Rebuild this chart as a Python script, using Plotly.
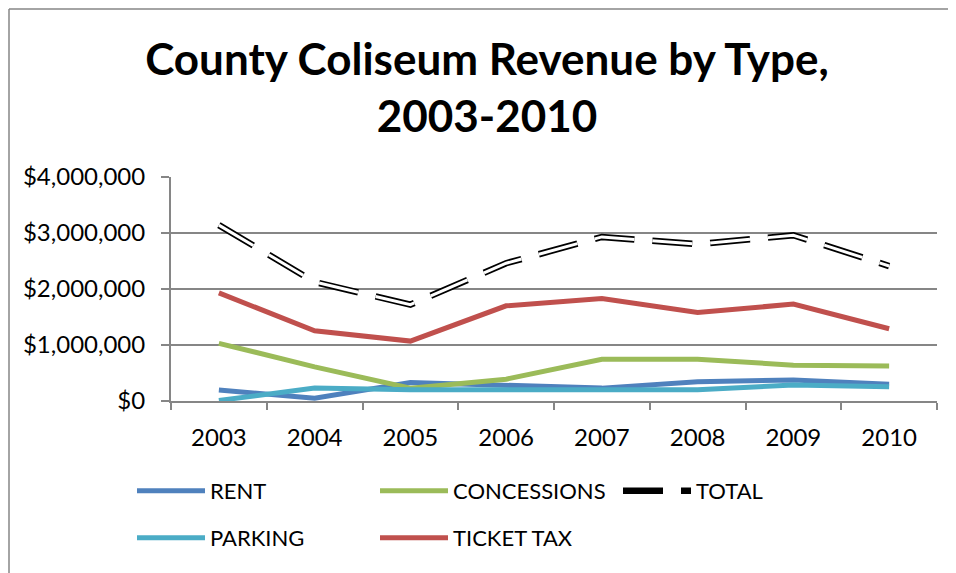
import plotly.graph_objects as go

years = ["2003", "2004", "2005", "2006", "2007", "2008", "2009", "2010"]
rent = [196000, 50000, 330000, 270000, 230000, 345000, 375000, 300000]
concessions = [1030000, 610000, 230000, 390000, 745000, 745000, 640000, 625000]
parking = [10000, 230000, 200000, 210000, 200000, 200000, 285000, 255000]
ticket_tax = [1930000, 1255000, 1070000, 1700000, 1830000, 1580000, 1730000, 1290000]
total = [3140000, 2125000, 1720000, 2460000, 2930000, 2800000, 2960000, 2410000]
y_ticks = [0, 1000000, 2000000, 3000000, 4000000]

FONT = "Lato"
fig = go.Figure()

def add_line(name, vals, color, legend):
    fig.add_trace(go.Scatter(x=years, y=vals, name=name, mode="lines", legend=legend,
                             line=dict(color=color, width=5)))

add_line("RENT", rent, "#4F81BD", "legend")
add_line("CONCESSIONS", concessions, "#9BBB59", "legend")
fig.add_trace(go.Scatter(x=years, y=total, name="TOTAL", mode="lines", legend="legend",
                         legendgroup="total",
                         line=dict(color="black", width=6.5, dash="40px,18px")))
add_line("PARKING", parking, "#4BACC6", "legend2")
add_line("TICKET TAX", ticket_tax, "#C0504D", "legend2")
fig.add_trace(go.Scatter(x=years, y=total, name="TOTAL", mode="lines",
                         legendgroup="total", showlegend=False, hoverinfo="skip",
                         line=dict(color="white", width=3, dash="40px,18px")))

# page body has an 8px margin, so figure coordinates = screen coordinates - 8
OFF = 8
W, H = 956 - OFF, 573 - OFF
L, T = 171 - OFF, 177 - OFF
pw, ph = 766, 224
R = W - L - pw
B = H - T - ph

leg_common = dict(orientation="h", xref="container", yref="container",
                  xanchor="left", yanchor="middle",
                  itemwidth=68, entrywidth=160, tracegroupgap=0,
                  font=dict(family=FONT, size=22, color="black"),
                  bgcolor="rgba(0,0,0,0)")

fig.update_layout(
    width=W, height=H,
    margin=dict(l=L, r=R, t=T, b=B, autoexpand=False),
    paper_bgcolor="white", plot_bgcolor="white",
    font=dict(family=FONT, color="black", size=23),
    title=dict(text="<b>County Coliseum Revenue by Type,<br>2003-2010</b>",
               x=(487 - OFF) / W, xanchor="center", xref="container", yref="container",
               y=1 - 67 / H, yanchor="top",
               font=dict(family=FONT, size=44, color="black")),
    showlegend=True,
    legend=dict(x=(132 - OFF) / W, y=1 - (491 - OFF) / H, **leg_common),
    legend2=dict(x=(132 - OFF) / W, y=1 - (538 - OFF) / H, **leg_common),
    xaxis=dict(type="category", range=[-0.5, 7.5], showgrid=False, showline=True,
               linecolor="#868686", linewidth=2, ticks="outside",
               tickson="boundaries", ticklen=7, tickcolor="#868686", tickwidth=2,
               tickfont=dict(family=FONT, size=24), ticklabelstandoff=14,
               fixedrange=True, automargin=False),
    yaxis=dict(range=[0, 4000000], tickvals=y_ticks, tickformat="$,.0f",
               showgrid=True, gridcolor="#868686", gridwidth=1.5,
               showline=True, linecolor="#868686", linewidth=2,
               ticks="outside", ticklen=8, tickcolor="#868686", tickwidth=2,
               zeroline=False, tickfont=dict(family=FONT, size=24),
               ticklabelstandoff=11, fixedrange=True, automargin=False),
)

# outer chart border (top and left edges visible), placed at the figure edge
def fx(px):
    return (px - L) / pw

def fy(py):
    return (T + ph - py) / ph

fig.add_shape(type="line", xref="paper", yref="paper",
              x0=fx(1), x1=fx(W + 5), y0=fy(1), y1=fy(1),
              line=dict(color="#868686", width=1.5))
fig.add_shape(type="line", xref="paper", yref="paper",
              x0=fx(1), x1=fx(1), y0=fy(1), y1=fy(H + 5),
              line=dict(color="#868686", width=1.5))

fig.write_html("out.html")
